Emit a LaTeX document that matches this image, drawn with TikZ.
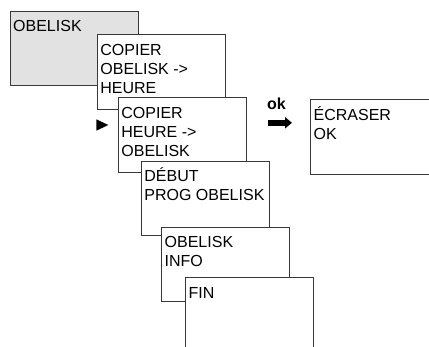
\documentclass[tikz,border=0pt]{standalone}
\usepackage{fontspec}
\setmainfont{Liberation Sans}
\usetikzlibrary{arrows.meta}
\definecolor{screengrey}{RGB}{226,226,226}
\definecolor{edgegrey}{RGB}{55,55,55}
\begin{document}
\begin{tikzpicture}[x=1pt,y=-1pt,every node/.style={font=\fontsize{16}{19}\selectfont},
  screen/.style={draw=edgegrey,line width=1.2pt,fill=white,anchor=north west,minimum width=128pt,minimum height=74.5pt,inner sep=0pt},
  screentxt/.style={anchor=base west,inner sep=0pt}]
\useasboundingbox (0,0) rectangle (429,347);
\clip (0,0) rectangle (429,347);
% top level screen
\node[screen,fill=screengrey] (obelisk) at (9.5,10.7) {};
\node[screentxt] (obelisk-t) at ([xshift=3.5pt,yshift=-21pt]obelisk.north west) {OBELISK};
% cascade of sub menus
\foreach \n/\x/\y/\t in {copyoh/96.7/34.3/{COPIER\\OBELISK ->\\HEURE},
    copyho/117.7/97.3/{COPIER\\HEURE ->\\OBELISK},
    debut/140.7/160.7/{DÉBUT\\PROG OBELISK},
    info/161/226.7/{OBELISK\\INFO},
    fin/185/277.3/{FIN}} {
  \node[screen] (\n) at (\x,\y) {};
  \node[screentxt] (\n-t) at ([xshift=3.5pt,yshift=-21pt]\n.north west) {\parbox[t]{124pt}{\t}};
}
% pointer and confirmation
\fill (96.3,119.3) -- (108.3,125) -- (96.3,130.7) -- cycle;
\node[font=\fontsize{16}{19}\selectfont\bfseries] (ok) at (276.5,103.5) {ok};
\coordinate (okfrom) at (267.5,122.8);
\coordinate (okto) at (292,122.8);
\draw[line width=5.5pt,-{Triangle[length=7pt,width=11pt]}] (okfrom) -- (okto);
\node[screen] (ecraser) at (310,99.3) {};
\node[screentxt] (ecraser-t) at ([xshift=3.5pt,yshift=-21pt]ecraser.north west) {\parbox[t]{124pt}{ÉCRASER\\OK}};
\end{tikzpicture}
\end{document}
